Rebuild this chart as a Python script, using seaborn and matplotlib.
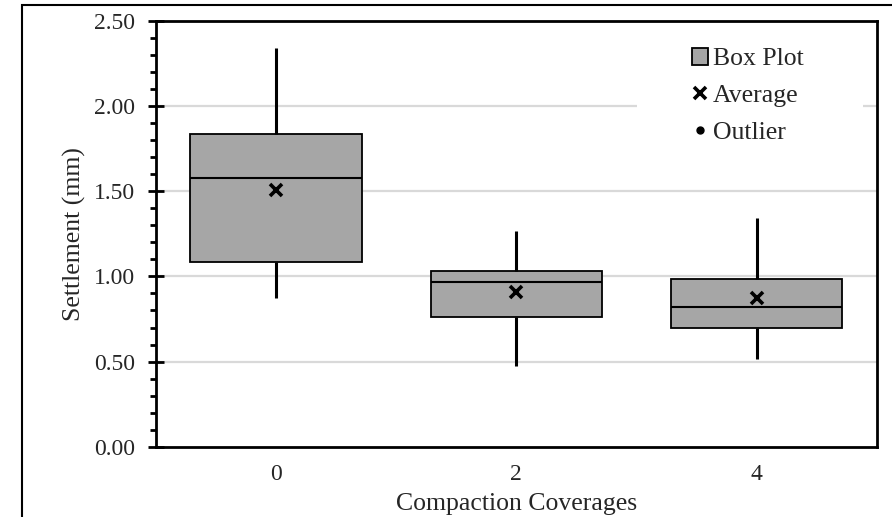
import numpy as np
import pandas as pd
import matplotlib
matplotlib.use("Agg")
import matplotlib.pyplot as plt
from matplotlib.patches import Patch, Rectangle
from matplotlib.lines import Line2D
from matplotlib.ticker import MultipleLocator, FormatStrFormatter
import seaborn as sns

# ---- data ----
categories = ["0", "2", "4"]
whisker_low = [0.875, 0.474, 0.515]
q1 = [1.087, 0.764, 0.696]
median = [1.580, 0.969, 0.819]
q3 = [1.835, 1.034, 0.983]
whisker_high = [2.340, 1.267, 1.342]
average = [1.505, 0.911, 0.875]
yticks = [0.0, 0.5, 1.0, 1.5, 2.0, 2.5]

# five-number summaries as samples (linear percentiles reproduce them exactly)
rows = []
for c, lo, a, m, b, hi in zip(categories, whisker_low, q1, median, q3, whisker_high):
    for v in (lo, a, m, b, hi):
        rows.append({"cov": c, "val": v})
df = pd.DataFrame(rows)
df_mean = pd.DataFrame({"cov": categories, "val": average})

sns.set_theme(style="white")
plt.rcParams["font.family"] = ["Liberation Serif", "DejaVu Serif"]

fig = plt.figure(figsize=(8.92, 5.17), dpi=100)
ax = fig.add_axes([156 / 892, 1 - 446.7 / 517, (876.7 - 156) / 892, (446.7 - 21) / 517])

for y in yticks[1:-1]:
    ax.axhline(y, color="#d9d9d9", lw=1.6, zorder=0)

# white area behind the legend (interrupts the gridline like the reference)
ax.add_patch(Rectangle((0.667, 0.70), 0.314, 0.27, transform=ax.transAxes,
                       facecolor="white", edgecolor="none", zorder=0.5))

box_color = "#a6a6a6"
sns.boxplot(
    data=df, x="cov", y="val", order=categories, ax=ax,
    whis=(0, 100), width=0.713, color=box_color, saturation=1,
    fliersize=0,
    boxprops=dict(facecolor=box_color, edgecolor="black", linewidth=1.3, zorder=2),
    medianprops=dict(color="black", linewidth=1.5, zorder=3),
    whiskerprops=dict(color="black", linewidth=2.2, zorder=2),
    capprops=dict(linewidth=0),
)

sns.pointplot(
    data=df_mean, x="cov", y="val", order=categories, ax=ax,
    linestyle="none", marker="x", color="black", errorbar=None,
    markersize=9, markeredgewidth=2.6,
)
for coll in ax.collections:
    coll.set_zorder(5)

ax.set_xlim(-0.5, 2.5)
ax.set_ylim(0, 2.5)
ax.yaxis.set_major_locator(MultipleLocator(0.5))
ax.yaxis.set_minor_locator(MultipleLocator(0.1))
ax.yaxis.set_major_formatter(FormatStrFormatter("%.2f"))
ax.tick_params(axis="y", which="major", direction="inout", length=11, width=2,
               labelsize=17, pad=9.3, left=True, color="black")
ax.tick_params(axis="y", which="minor", direction="out", length=4.5, width=2,
               left=True, color="black")
ax.tick_params(axis="x", length=0, labelsize=17, pad=12.6)
for s in ax.spines.values():
    s.set_visible(True)
    s.set_color("black")
    s.set_linewidth(2)

ax.set_xlabel("Compaction Coverages", fontsize=18.5, labelpad=5.6)
ax.set_ylabel("Settlement (mm)", fontsize=18.5, labelpad=5.8)

handles = [
    Patch(facecolor=box_color, edgecolor="black", linewidth=1.3, label="Box Plot"),
    Line2D([], [], linestyle="none", marker="x", color="black", markersize=9,
           markeredgewidth=2.6, label="Average"),
    Line2D([], [], linestyle="none", marker="o", color="black", markersize=5,
           label="Outlier"),
]
leg = ax.legend(handles=handles, loc="upper left", bbox_to_anchor=(0.744, 0.936),
                fontsize=18.5, frameon=False, handlelength=0.6, handleheight=0.6,
                handletextpad=0.2, labelspacing=0.56, borderpad=0, borderaxespad=0)
leg.set_zorder(10)

# outer chart frame
fig.patches.append(Rectangle((22 / 892, -0.05), 1.0, 1 - 5 / 517 + 0.05,
                             transform=fig.transFigure, fill=False,
                             edgecolor="black", linewidth=1.5))

fig.savefig("out.png", dpi=100)
